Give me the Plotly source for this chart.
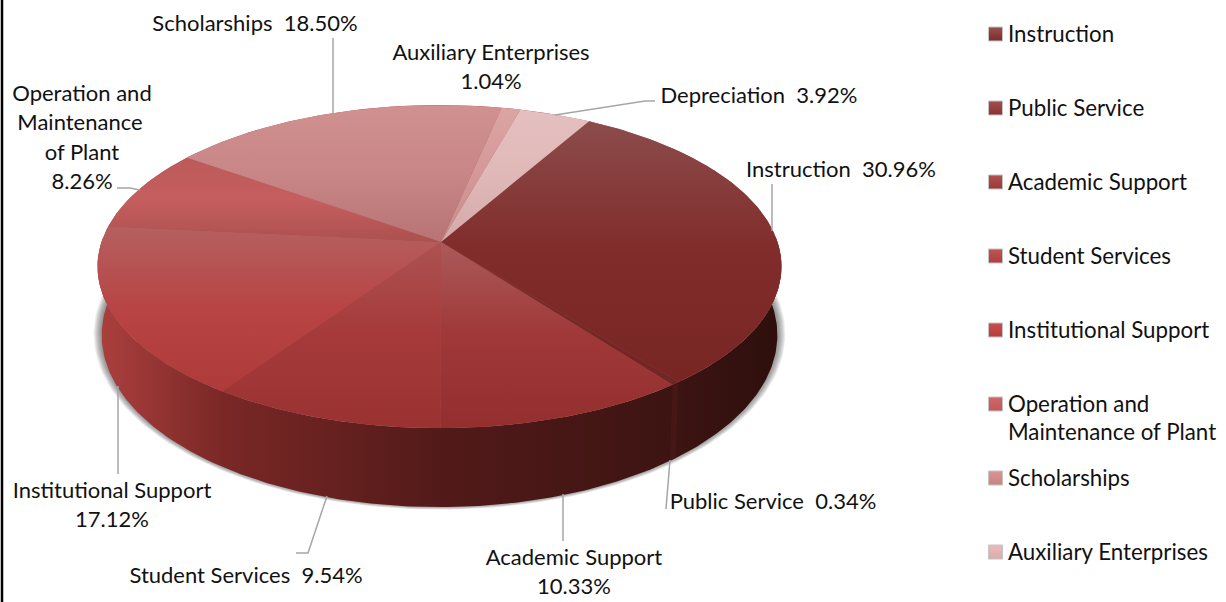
import numpy as np
import plotly.graph_objects as go

# ---- data ----
categories = ["Instruction", "Public Service", "Academic Support", "Student Services",
              "Institutional Support", "Operation and Maintenance of Plant",
              "Scholarships", "Auxiliary Enterprises", "Depreciation"]
shares = [30.96, 0.34, 10.33, 9.54, 17.12, 8.26, 18.50, 1.04, 3.92]

# top-face vertical gradients (three stops), per slice
top_colors = [
    ["#8c4c4c", "#802c2a", "#782624"],
    ["#7e3230", "#762a28", "#702624"],
    ["#ab5a5a", "#a03838", "#942f2f"],
    ["#ad5252", "#a63a3a", "#9a3232"],
    ["#b56060", "#b84444", "#ae3a3a"],
    ["#bc5a5a", "#c65e5e", "#ac5050"],
    ["#d19191", "#c88686", "#b87474"],
    ["#dca4a4", "#d49898", "#c88c8c"],
    ["#e5c0c0", "#e0b8b8", "#d4a9a9"],
]
# side-wall shading, left to right: far left, Institutional/Student seam,
# Student/Academic seam, Academic/Public seam, far right
wall_shades = ["#ac403e", "#7a2826", "#521a19", "#3c1412", "#2d0f0c"]
public_wall = "#451715"

legend_names = categories[:8]
legend_rows = [34, 108, 182, 256, 330, 404, 478, 552]
legend_top = ["#9a5050", "#a45050", "#b05050", "#c05454", "#c84e4e", "#d06868", "#dc9494", "#e8bcbc"]
legend_bottom = ["#7c2c2c", "#8a3232", "#9c3838", "#ac3e3e", "#b83c3c", "#c05858", "#c88282", "#dcaaaa"]

# label lines: (text, centre x, centre y)
label_text = ["Scholarships  18.50%", "Auxiliary Enterprises", "1.04%", "Depreciation  3.92%",
              "Instruction  30.96%", "Operation and", "Maintenance", "of Plant", "8.26%",
              "Institutional Support", "17.12%", "Student Services  9.54%",
              "Academic Support", "10.33%", "Public Service  0.34%"]
label_x = [255, 491, 491, 759, 841, 82, 80, 82, 82, 112, 112, 246, 574, 574, 773]
label_y = [25, 54, 83, 97, 171, 95, 124, 154, 183, 492, 521, 577, 559, 588, 503]

leaders = [
    ([333, 333], [38, 113]),
    ([117, 130, 140], [188, 188, 190]),
    ([655, 645, 555], [101, 101, 115]),
    ([772, 772], [184, 231]),
    ([118, 118], [474, 386]),
    ([296, 308, 327], [553, 553, 496]),
    ([563, 563], [541, 494]),
    ([666, 670], [509, 460]),
]

FONT = "Lato"
FS_LABEL = 22
FS_LEGEND = 22.3
START_DEG = 30.0
CX, APEX_X, APEX_Y = 439.5, 441.0, 242.0
A, B, K = 338.0, 157.8, -0.152


def rim(theta):
    u, v = np.sin(theta), -np.cos(theta)
    d = 1 + K * v
    return CX + A * u / d, APEX_Y + B * v / d


def low_rim(theta, gx=0.0, gy=0.0):
    x, y = rim(theta)
    return CX + (x - CX) * 0.988 * (1 + gx / 338), 335 + (y - 266.5) * 1.065 * (1 + gy / 172)


def band(a_deg, b_deg, n):
    t = np.radians(np.linspace(a_deg, b_deg, n))
    x1, y1 = rim(t)
    x2, y2 = low_rim(t)
    return np.concatenate([x1, x2[::-1]]), np.concatenate([y1, y2[::-1]])


fig = go.Figure()


def solid(xs, ys, color):
    fig.add_trace(go.Scatter(x=xs, y=ys, mode="lines", fill="toself", line=dict(width=0),
                             fillcolor=color, hoverinfo="skip", showlegend=False))


# soft shadow under the disc
full = np.linspace(0, 2 * np.pi, 241)
for g in [8, 7, 6, 5, 4, 3, 2, 1]:
    sx, sy = low_rim(full, g, g * 0.45)
    solid(sx, sy - 1, "rgba(60,60,60,0.085)")

edges = START_DEG + np.concatenate([[0], np.cumsum(shares)]) * 3.6
VIS_A, VIS_B = 88.0, 272.0

# front wall, one piece with its shading anchored at the slice boundaries
xs, ys = band(VIS_A, VIS_B, 240)
lo, hi = float(xs.min()), float(xs.max())
seam_x = rim(np.radians(edges[[4, 3, 1]]))[0]
pos = [0.0] + [float((s - lo) / (hi - lo)) for s in seam_x] + [1.0]
fig.add_trace(go.Scatter(
    x=xs, y=ys, mode="lines", fill="toself", line=dict(width=0), hoverinfo="skip", showlegend=False,
    fillgradient=dict(type="horizontal", colorscale=[[p, c] for p, c in zip(pos, wall_shades)],
                      start=lo, stop=hi)))
# the thin Public Service strip
xs, ys = band(edges[1], edges[2], 4)
solid(xs, ys, public_wall)

# underlay of the top face
tx, ty = rim(full)
solid(tx, ty, "#a84a4a")

# top face slices
for i in range(len(shares)):
    t = np.radians(np.linspace(edges[i], edges[i + 1], max(4, int(shares[i] * 8))))
    x, y = rim(t)
    xs = np.concatenate([[APEX_X], x, [APEX_X]])
    ys = np.concatenate([[APEX_Y], y, [APEX_Y]])
    stops = top_colors[i]
    fig.add_trace(go.Scatter(
        x=xs, y=ys, mode="lines", fill="toself", line=dict(width=0), name=categories[i],
        hovertemplate=f"{categories[i]}: {shares[i]:.2f}%<extra></extra>", showlegend=False,
        fillgradient=dict(type="vertical",
                          colorscale=[[j / (len(stops) - 1), c] for j, c in enumerate(stops)],
                          start=float(ys.min()), stop=float(ys.max()))))

# leader lines
for lx, ly in leaders:
    fig.add_trace(go.Scatter(x=lx, y=ly, mode="lines", line=dict(color="#a6a6a6", width=1.5),
                             hoverinfo="skip", showlegend=False))

# data labels
fig.add_trace(go.Scatter(x=label_x, y=label_y, mode="text", text=label_text, textposition="middle center",
                         textfont=dict(family=FONT, size=FS_LABEL, color="#111111"),
                         hoverinfo="skip", showlegend=False))

# legend
fig.add_trace(go.Scatter(
    x=[995.5] * len(legend_rows), y=legend_rows, mode="markers",
    marker=dict(symbol="square", size=14, color=legend_top,
                gradient=dict(type="vertical", color=legend_bottom),
                line=dict(color="#c4c4c4", width=1)),
    hoverinfo="skip", showlegend=False))
leg_text, leg_y = [], []
for n, r in zip(legend_names, legend_rows):
    if n.startswith("Operation"):
        leg_text += ["Operation and", "Maintenance of Plant"]
        leg_y += [r + 2, r + 30]
    else:
        leg_text.append(n)
        leg_y.append(r + 2)
fig.add_trace(go.Scatter(x=[1008] * len(leg_text), y=leg_y, mode="text", text=leg_text,
                         textposition="middle right",
                         textfont=dict(family=FONT, size=FS_LEGEND, color="#111111"),
                         hoverinfo="skip", showlegend=False))

fig.add_shape(type="line", x0=2, x1=2, y0=0, y1=602, line=dict(color="black", width=2.5))

fig.update_layout(
    width=1226, height=602, margin=dict(l=0, r=0, t=0, b=0),
    paper_bgcolor="white", plot_bgcolor="white", showlegend=False,
    xaxis=dict(range=[0, 1226], visible=False, fixedrange=True),
    yaxis=dict(range=[602, 0], visible=False, fixedrange=True),
)
fig.write_html("out.html", config={"displayModeBar": False},
               post_script="document.body.style.margin='0';document.body.style.overflow='hidden';")
